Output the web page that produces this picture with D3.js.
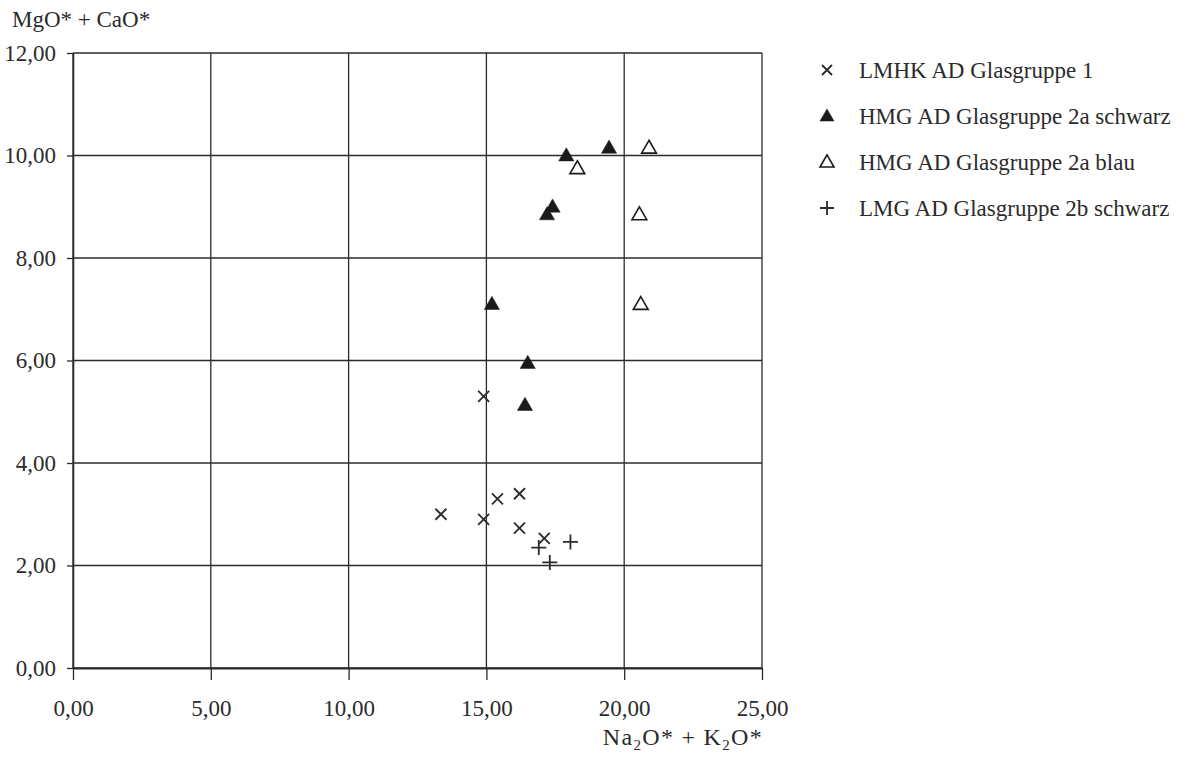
<!DOCTYPE html>
<html lang="de">
<head>
<meta charset="UTF-8">
<title>MgO + CaO gegen Na2O + K2O</title>
<script src="https://d3js.org/d3.v7.min.js"></script>
<style>
  body { margin: 0; background: #fff; }
  text { font-family: "Liberation Serif", "Times New Roman", serif; fill: #2b2b2b; }
</style>
</head>
<body>
<script>
// Werte: [Na2O*+K2O*, MgO*+CaO*]
var lmhk = [[14.9, 5.3], [15.4, 3.3], [16.2, 3.4], [13.35, 3.0], [14.9, 2.9], [16.2, 2.73], [17.1, 2.53]];
var hmgSchwarz = [[17.9, 10.0], [19.45, 10.15], [17.4, 9.0], [17.2, 8.85], [15.2, 7.1], [16.5, 5.95], [16.4, 5.13]];
var hmgBlau = [[20.9, 10.15], [18.3, 9.75], [20.55, 8.85], [20.6, 7.1]];
var lmgSchwarz = [[16.9, 2.35], [18.05, 2.46], [17.3, 2.06]];

var legendLabels = ["LMHK AD Glasgruppe 1", "HMG AD Glasgruppe 2a schwarz", "HMG AD Glasgruppe 2a blau", "LMG AD Glasgruppe 2b schwarz"];
var xTicks = [0, 5, 10, 15, 20, 25];
var yTicks = [0, 2, 4, 6, 8, 10, 12];

var W = 1190, H = 760;
var pLeft = 73, pRight = 762, pTop = 53, pBottom = 668;
var ink = "#2b2b2b";
var fs = 23;

var fmt = d3.formatLocale({decimal: ",", thousands: ".", grouping: [3], currency: ["", "€"]}).format(".2f");

var x = d3.scaleLinear().domain([0, 25]).range([pLeft, pRight]);
var y = d3.scaleLinear().domain([0, 12]).range([pBottom, pTop]);

var svg = d3.select("body").append("svg").attr("width", W).attr("height", H);

// Gitter
svg.append("g").selectAll("line").data(xTicks).join("line")
  .attr("x1", d => x(d)).attr("x2", d => x(d))
  .attr("y1", pTop).attr("y2", pBottom)
  .attr("stroke", ink).attr("stroke-width", 1.3);
svg.append("g").selectAll("line").data(yTicks).join("line")
  .attr("x1", pLeft).attr("x2", pRight)
  .attr("y1", d => y(d)).attr("y2", d => y(d))
  .attr("stroke", ink).attr("stroke-width", 1.3);

// Achsen
var xAxis = svg.append("g").attr("transform", "translate(0," + pBottom + ")")
  .call(d3.axisBottom(x).tickValues(xTicks).tickSize(12).tickSizeOuter(0).tickPadding(20).tickFormat(fmt));
var yAxis = svg.append("g").attr("transform", "translate(" + pLeft + ",0)")
  .call(d3.axisLeft(y).tickValues(yTicks).tickSize(6).tickSizeOuter(0).tickPadding(11).tickFormat(fmt));
[xAxis, yAxis].forEach(function (a) {
  a.select(".domain").attr("stroke", ink).attr("stroke-width", 1.6);
  a.selectAll(".tick line").attr("stroke", ink).attr("stroke-width", 1.3);
  a.selectAll("text").attr("font-size", fs).attr("font-family", "Liberation Serif").attr("fill", ink);
});
xAxis.select(".domain").attr("stroke-width", 2.2);

// Achsentitel
svg.append("text").attr("x", 12).attr("y", 27).attr("font-size", fs).text("MgO* + CaO*");
var xt = svg.append("text").attr("x", pRight + 1).attr("y", 745).attr("font-size", 24)
  .attr("letter-spacing", 1.3).attr("text-anchor", "end");
xt.append("tspan").text("Na");
xt.append("tspan").attr("font-size", 15).attr("dy", 5).text("2");
xt.append("tspan").attr("dy", -5).text("O* + K");
xt.append("tspan").attr("font-size", 15).attr("dy", 5).text("2");
xt.append("tspan").attr("dy", -5).text("O*");

// Markierungen
function drawX(g, px, py, s) {
  g.append("path").attr("d", "M" + (px - s) + "," + (py - s) + "L" + (px + s) + "," + (py + s) + "M" + (px - s) + "," + (py + s) + "L" + (px + s) + "," + (py - s))
    .attr("stroke", ink).attr("stroke-width", 1.8).attr("fill", "none");
}
function drawPlus(g, px, py, s) {
  g.append("path").attr("d", "M" + (px - s) + "," + py + "L" + (px + s) + "," + py + "M" + px + "," + (py - s) + "L" + px + "," + (py + s))
    .attr("stroke", ink).attr("stroke-width", 1.8).attr("fill", "none");
}
function drawTri(g, px, py, filled, size) {
  g.append("path").attr("d", d3.symbol().type(d3.symbolTriangle).size(size)())
    .attr("transform", "translate(" + px + "," + (py + 1) + ")")
    .attr("fill", filled ? "#1a1a1a" : "#fff")
    .attr("stroke", "#1a1a1a").attr("stroke-width", filled ? 0.5 : 1.6);
}

var marks = svg.append("g");
lmhk.forEach(d => drawX(marks, x(d[0]), y(d[1]), 5.5));
hmgSchwarz.forEach(d => drawTri(marks, x(d[0]), y(d[1]), true, 100));
hmgBlau.forEach(d => drawTri(marks, x(d[0]), y(d[1]), false, 95));
lmgSchwarz.forEach(d => drawPlus(marks, x(d[0]), y(d[1]), 7.5));

// Legende
var lg = svg.append("g");
var lx = 827, ly0 = 70, ldy = 46;
legendLabels.forEach(function (t, i) {
  var cy = ly0 + i * ldy;
  if (i === 0) drawX(lg, lx, cy, 5);
  if (i === 1) drawTri(lg, lx, cy, true, 85);
  if (i === 2) drawTri(lg, lx, cy, false, 85);
  if (i === 3) drawPlus(lg, lx, cy, 7);
  lg.append("text").attr("x", 859).attr("y", cy + 8).attr("font-size", fs).text(t);
});
</script>
</body>
</html>
